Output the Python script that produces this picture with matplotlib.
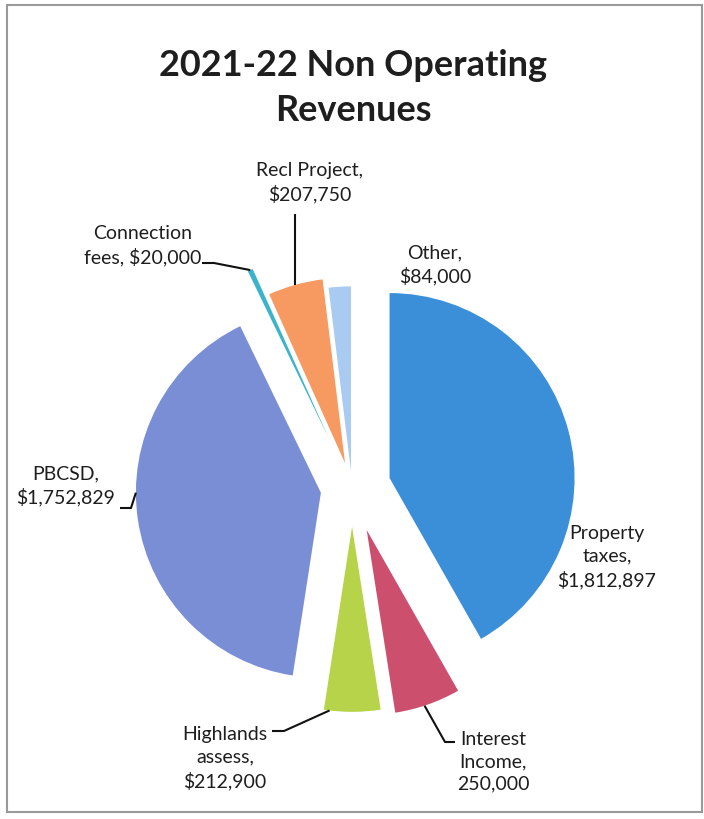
import numpy as np
import matplotlib.pyplot as plt
from matplotlib.patches import Rectangle

# -----------------------------
# Data
# -----------------------------
labels = ["Property\ntaxes,", "Interest\nIncome,", "Highlands\nassess,", "PBCSD,",
          "Connection\nfees,", "Recl Project,", "Other,"]
values = [1812897, 250000, 212900, 1752829, 20000, 207750, 84000]
value_text = ["$1,812,897", "250,000", "$212,900", "$1,752,829",
              "$20,000", "$207,750", "$84,000"]

# -----------------------------
# Style
# -----------------------------
COLORS = ["#3b8fd9", "#cc4f6e", "#b6d34a", "#7a8ed6", "#3bb3cc", "#f79a62", "#a9cbf2"]
EXPLODE = [0.21, 0.24, 0.21, 0.17, 0.30, 0.14, 0.09]
TEXT_COLOR = "#1e1e1e"
FONT = ["Lato", "DejaVu Sans"]

W, H = 704, 819
R_PX = 185                 # pie radius in pixels
CX, CY = 352, 488          # pie centre, pixels from top-left

plt.rcParams["font.family"] = FONT

fig = plt.figure(figsize=(W / 100, H / 100), dpi=100)
fig.patch.set_facecolor("white")
ax = fig.add_axes([0, 0, 1, 1])

wedges, _ = ax.pie(
    values,
    colors=COLORS,
    explode=EXPLODE,
    startangle=90,
    counterclock=False,
    radius=1.0,
    wedgeprops={"linewidth": 0},
)

# pie() resets the limits, so fix them afterwards: 1 data unit = R_PX pixels
ax.set_xlim(-CX / R_PX, (W - CX) / R_PX)
ax.set_ylim(-(H - CY) / R_PX, CY / R_PX)
ax.set_aspect("equal")
ax.axis("off")


def px(x, y):
    """pixel position (from top-left) -> data coords"""
    return (x - CX) / R_PX, (CY - y) / R_PX


def arc_point(w, ang):
    cx, cy = w.center
    a = np.deg2rad(ang)
    return cx + w.r * np.cos(a), cy + w.r * np.sin(a)


def frac_angle(w, f):
    return w.theta1 + f * (w.theta2 - w.theta1)


def label(x, y, text, ha="center"):
    ax.text(*px(x, y), text, ha=ha, va="center", fontsize=14,
            color=TEXT_COLOR, linespacing=1.38)


def leader(points):
    xs, ys = zip(*points)
    ax.plot(xs, ys, color="#111111", lw=1.5, solid_capstyle="butt")


# -----------------------------
# Labels and leader lines
# -----------------------------
w_prop, w_int, w_high, w_pb, w_conn, w_recl, w_oth = wedges

# Property taxes
label(607, 557, labels[0] + "\n" + value_text[0])

# Interest income
label(493, 762, labels[1] + "\n" + value_text[1])
a = arc_point(w_int, frac_angle(w_int, 0.45))
leader([a, px(445, 742), px(455, 742)])

# Highlands assess
label(225, 758, labels[2] + "\n" + value_text[2])
a = arc_point(w_high, frac_angle(w_high, 0.1))
leader([a, px(284, 731), px(272, 731)])

# PBCSD
label(66, 486, labels[3] + "\n" + value_text[3])
a = arc_point(w_pb, 180)
leader([a, px(131, 508), px(120, 508)])

# Connection fees
label(143, 246, "Connection\nfees, " + value_text[4])
a = arc_point(w_conn, frac_angle(w_conn, 0.5))
leader([a, px(214, 263), px(202, 263)])

# Recl Project
label(310, 183, labels[5] + "\n" + value_text[5])
a = arc_point(w_recl, frac_angle(w_recl, 0.5))
leader([a, (a[0], px(0, 214)[1])])

# Other
label(435, 265, labels[6] + "\n" + value_text[6])

# -----------------------------
# Title and frame
# -----------------------------
ax.text(*px(353, 88), "2021-22 Non Operating\nRevenues", ha="center", va="center",
        fontsize=26, fontweight="bold", color=TEXT_COLOR, linespacing=1.42)

fig.patches.append(Rectangle((7 / W, 1 - 812 / H), 695 / W, 807 / H,
                             transform=fig.transFigure, fill=False,
                             edgecolor="#9a9a9a", linewidth=1.5))

fig.savefig("out.png", dpi=100, facecolor="white")
